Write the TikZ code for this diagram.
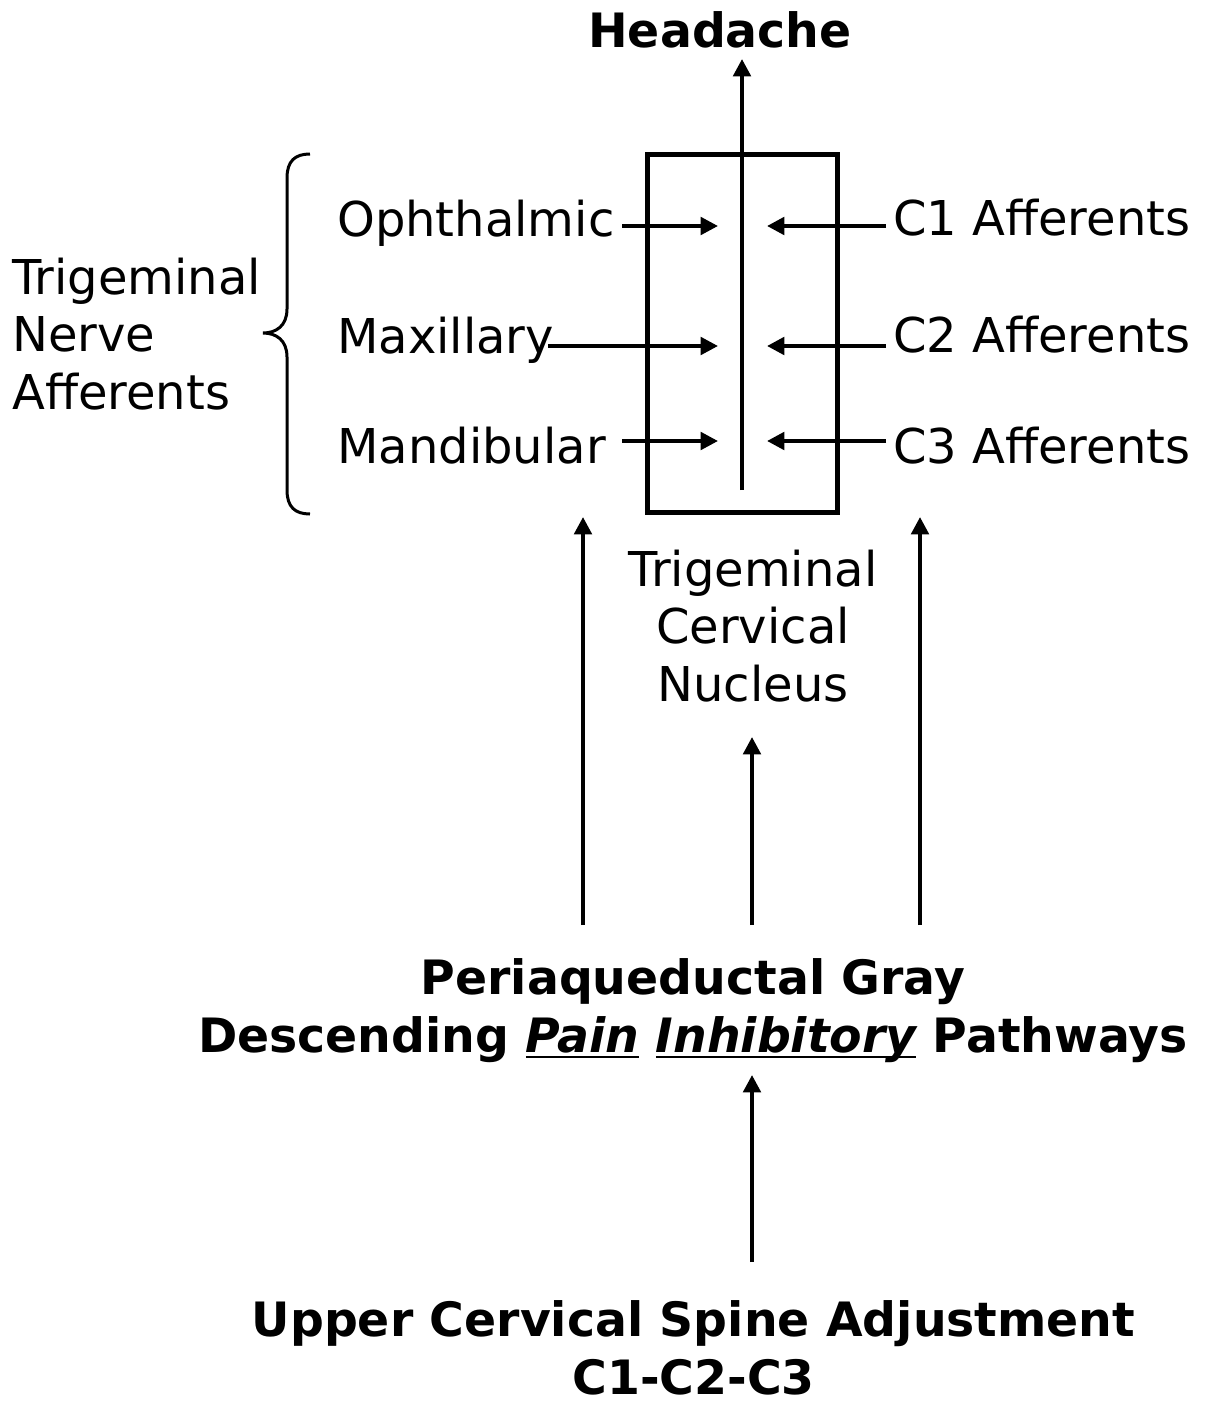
\documentclass[tikz,border=0pt]{standalone}
\usepackage{fontspec}
\setmainfont{DejaVu Sans}
\usetikzlibrary{arrows.meta}
\newsavebox\myulbox
\newcommand\myul[1]{\sbox\myulbox{#1}\rlap{\rule[-4.2pt]{\wd\myulbox}{1.1pt}}\usebox\myulbox}
\begin{document}
\begin{tikzpicture}[x=0.75pt,y=-0.75pt,
  arr/.style={line width=3pt,-{Triangle[length=13pt,width=13pt]}},
  lbl/.style={inner sep=0pt,font=\fontsize{36}{43}\selectfont},
  blbl/.style={inner sep=0pt,font=\fontsize{35.5}{43.5}\selectfont\bfseries},
  boxstyle/.style={draw,line width=3.75pt,inner sep=0pt},
  bracestyle/.style={line width=2.25pt}
]
\useasboundingbox (0,0) rectangle (1204,1405);

% nucleus box
\node[boxstyle,minimum width=142.5pt,minimum height=268.5pt] (box) at (742.5,333.5) {};

% headache
\node[blbl,anchor=base] (head) at (720,48) {Headache};
\coordinate (vbot) at (742,490);
\coordinate (vtop) at (742,59);
\draw[arr] (vbot) -- (vtop);

% trigeminal branches
\node[lbl,anchor=base west] (oph) at (337,237) {Ophthalmic};
\node[lbl,anchor=base west] (max) at (337,353) {Maxillary};
\node[lbl,anchor=base west] (man) at (337,463) {Mandibular};
\coordinate (ophs) at (622,226); \coordinate (ophe) at (718,226);
\coordinate (maxs) at (548,346); \coordinate (maxe) at (718,346);
\coordinate (mans) at (622,441); \coordinate (mane) at (718,441);
\draw[arr] (ophs) -- (ophe);
\draw[arr] (maxs) -- (maxe);
\draw[arr] (mans) -- (mane);

% cervical afferents
\node[lbl,anchor=base west] (c1) at (893,235) {C1 Afferents};
\node[lbl,anchor=base west] (c2) at (893,352) {C2 Afferents};
\node[lbl,anchor=base west] (c3) at (893,463) {C3 Afferents};
\coordinate (c1s) at (886,226); \coordinate (c1e) at (767,226);
\coordinate (c2s) at (886,346); \coordinate (c2e) at (767,346);
\coordinate (c3s) at (886,441); \coordinate (c3e) at (767,441);
\draw[arr] (c1s) -- (c1e);
\draw[arr] (c2s) -- (c2e);
\draw[arr] (c3s) -- (c3e);

% trigeminal nerve afferents with brace (base anchor = last line)
\node[lbl,anchor=base west,align=left] (tna) at (12,409) {Trigeminal\\Nerve\\Afferents};
\draw[bracestyle] (310,154) .. controls (295,154) and (287,161) .. (287,178)
  -- (287,309) .. controls (287,326) and (276,333) .. (263,333)
  .. controls (276,333) and (287,340) .. (287,357)
  -- (287,490) .. controls (287,507) and (295,514) .. (310,514);

% trigeminal cervical nucleus label
\node[lbl,anchor=base,align=center] (tcn) at (753,701) {Trigeminal\\Cervical\\Nucleus};

% PAG
\node[blbl,anchor=base,align=center] (pag) at (693,1052) {Periaqueductal Gray\\Descending \myul{\itshape Pain} \myul{\itshape Inhibitory} Pathways};
\coordinate (l1) at (583,925); \coordinate (l2) at (583,517);
\coordinate (m1) at (752,925); \coordinate (m2) at (752,737);
\coordinate (r1) at (920,925); \coordinate (r2) at (920,517);
\draw[arr] (l1) -- (l2);
\draw[arr] (m1) -- (m2);
\draw[arr] (r1) -- (r2);

% adjustment
\node[blbl,anchor=base,align=center] (ucs) at (693.5,1394) {Upper Cervical Spine Adjustment\\C1-C2-C3};
\coordinate (b1) at (752,1262); \coordinate (b2) at (752,1075);
\draw[arr] (b1) -- (b2);
\end{tikzpicture}
\end{document}
